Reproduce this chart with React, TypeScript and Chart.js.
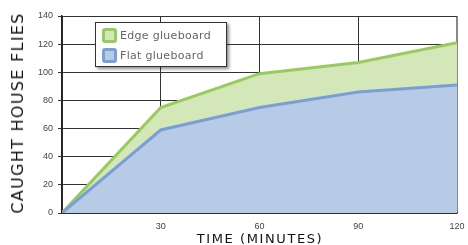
import React, { useEffect, useRef } from "react";
import { Chart, registerables } from "chart.js";

Chart.register(...registerables);

const timeMinutes = [0, 30, 60, 90, 120];
const edgeGlueboard = [0, 75, 99, 107, 121];
const flatGlueboard = [0, 59, 75, 86, 91];
const seriesLabels = ["Edge glueboard", "Flat glueboard"];
const xTitle = "TIME (MINUTES)";
const yTitle = "CAUGHT HOUSE FLIES";

const EDGE_LINE = "#98cb5c";
const EDGE_FILL = "#d3e7b9";
const FLAT_LINE = "#7a9fd6";
const FLAT_FILL = "#b7cbe7";

export default function App() {
  const canvasRef = useRef<HTMLCanvasElement | null>(null);

  useEffect(() => {
    if (!canvasRef.current) return;
    const chart = new Chart(canvasRef.current, {
      type: "line",
      data: {
        datasets: [
          {
            label: seriesLabels[0],
            data: timeMinutes.map((x, i) => ({ x, y: edgeGlueboard[i] })),
            borderColor: EDGE_LINE,
            backgroundColor: EDGE_FILL,
            borderWidth: 3,
            fill: "origin",
            pointRadius: 0,
            tension: 0,
            order: 2,
          },
          {
            label: seriesLabels[1],
            data: timeMinutes.map((x, i) => ({ x, y: flatGlueboard[i] })),
            borderColor: FLAT_LINE,
            backgroundColor: FLAT_FILL,
            borderWidth: 3,
            fill: "origin",
            pointRadius: 0,
            tension: 0,
            order: 1,
          },
        ],
      },
      options: {
        animation: false,
        responsive: false,
        maintainAspectRatio: false,
        layout: { padding: { top: 16, right: 11, left: 0, bottom: 0 } },
        plugins: {
          legend: { display: false },
          tooltip: { enabled: false },
        },
        scales: {
          x: {
            type: "linear",
            min: 0,
            max: 120,
            afterFit: (s: any) => {
              s.height = 32;
              s.paddingLeft = 0;
              s.paddingRight = 0;
            },
            ticks: {
              stepSize: 30,
              color: "#444",
              font: { family: "Liberation Sans", size: 9 },
              padding: 8,
              callback: (v: any) => (v === 0 ? "" : String(v)),
            },
            grid: {
              color: (ctx: any) =>
                ctx.tick && ctx.tick.value === 120 ? "#888" : "#333",
              lineWidth: (ctx: any) =>
                ctx.tick && ctx.tick.value === 120 ? 2 : 1,
              drawTicks: false,
            },
            border: { color: "#222", width: 1.5 },
          },
          y: {
            min: 0,
            max: 140,
            afterFit: (s: any) => {
              s.width = 62;
              s.paddingTop = 0;
              s.paddingBottom = 0;
            },
            ticks: {
              stepSize: 20,
              color: "#444",
              font: { family: "Liberation Sans", size: 9 },
              padding: 5,
            },
            grid: {
              color: "#333",
              lineWidth: 1,
              tickLength: 4,
            },
            border: { color: "#222", width: 1.5 },
          },
        },
      },
    });
    return () => chart.destroy();
  }, []);

  const swatch = (line: string, fill: string): React.CSSProperties => ({
    boxSizing: "border-box",
    width: 15,
    height: 15,
    border: `3px solid ${line}`,
    borderRadius: 3,
    background: fill,
    marginRight: 3,
  });

  return (
    <div
      style={{
        position: "fixed",
        left: 0,
        top: 0,
        width: 468,
        height: 245,
        background: "#fff",
        overflow: "hidden",
      }}
    >
      <canvas ref={canvasRef} width={468} height={245} />
      <div
        style={{
          position: "absolute",
          left: 18,
          top: 113,
          transform: "translate(-50%, -50%) rotate(-90deg)",
          whiteSpace: "nowrap",
          fontFamily: "DejaVu Sans",
          fontSize: 16,
          letterSpacing: 1.3,
          color: "#111",
          lineHeight: "16px",
        }}
      >
        {yTitle}
      </div>
      <div
        style={{
          position: "absolute",
          left: 260,
          top: 238,
          transform: "translate(-50%, -50%)",
          whiteSpace: "nowrap",
          fontFamily: "DejaVu Sans",
          fontSize: 13,
          letterSpacing: 1.6,
          color: "#111",
          lineHeight: "13px",
        }}
      >
        {xTitle}
      </div>
      <div
        style={{
          position: "absolute",
          left: 95,
          top: 22,
          width: 130,
          height: 43,
          border: "1px solid #333",
          background: "#fff",
          boxShadow: "2px 2px 3px rgba(0,0,0,0.45)",
          fontFamily: "DejaVu Sans",
          fontSize: 11,
          color: "#666",
          letterSpacing: 0.3,
        }}
      >
        <div style={{ display: "flex", alignItems: "center", position: "absolute", left: 6, top: 5 }}>
          <div style={swatch(EDGE_LINE, EDGE_FILL)} />
          <span>{seriesLabels[0]}</span>
        </div>
        <div style={{ display: "flex", alignItems: "center", position: "absolute", left: 6, top: 25 }}>
          <div style={swatch(FLAT_LINE, FLAT_FILL)} />
          <span>{seriesLabels[1]}</span>
        </div>
      </div>
    </div>
  );
}
